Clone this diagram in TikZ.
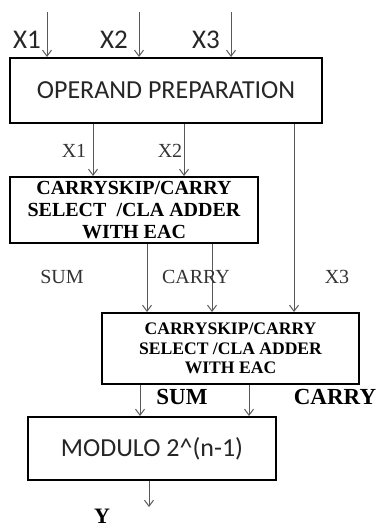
\documentclass[tikz,border=0pt]{standalone}
\usepackage{fontspec}
\setmainfont{Liberation Serif}
\newfontfamily\calfont{Carlito}
\usetikzlibrary{positioning, arrows.meta, calc}
\tikzset{
  blockbox/.style={
    draw=black,
    line width=1pt,
    fill=white,
    align=center,
    inner sep=1pt,
  },
  % sans boxes = preparation / modulo, serif bold = adders
  prepbox/.style={blockbox, minimum width=156pt, minimum height=32.5pt,
    font=\calfont\fontsize{13}{15}\selectfont, text=black!85},
  adderbox/.style={blockbox, font=\bfseries\fontsize{10}{11}\selectfont},
  sigarr/.style={-{Straight Barb[length=3pt, width=4.5pt]}, line width=0.5pt, draw=black!65},
  inlabel/.style={font=\calfont\fontsize{13.5}{15}\selectfont, text=black!85},
  wirelabel/.style={font=\fontsize{10}{12}\selectfont, text=black!80},
  outlabel/.style={font=\bfseries\fontsize{11.5}{13}\selectfont},
}

\begin{document}
\begin{tikzpicture}[x=0.5pt, y=-0.5pt]
  \useasboundingbox (0,0) rectangle (377,528);

  \node[prepbox] (prep) at (166,90.5) {OPERAND PREPARATION};
  \node[adderbox, minimum width=124pt, minimum height=33pt] (add1) at (134,210)
    {CARRYSKIP/CARRY\\SELECT~~/CLA ADDER\\WITH EAC};
  \node[adderbox, minimum width=128.5pt, minimum height=35.5pt,
        font=\bfseries\fontsize{8.8}{9.6}\selectfont] (add2) at (230.5,348.5)
    {CARRYSKIP/CARRY\\SELECT /CLA ADDER\\WITH EAC};
  \node[prepbox, minimum width=124pt, minimum height=31.5pt] (mod) at (152,448.5)
    {MODULO 2\textasciicircum(n-1)};

  % wire positions
  \coordinate (xa) at (47,12);
  \coordinate (xb) at (139,12);
  \coordinate (xc) at (231,12);
  \coordinate (p1) at (93,0);
  \coordinate (p2) at (184,0);
  \coordinate (p3) at (294,0);
  \coordinate (s1) at (147,0);
  \coordinate (s2) at (212,0);
  \coordinate (t1) at (140,0);
  \coordinate (t2) at (249,0);
  \coordinate (yout) at (149,507);

  \foreach \c in {xa, xb, xc} {
    \draw[sigarr] (\c) -- (\c |- prep.north);
  }
  \foreach \c in {p1, p2} {
    \draw[sigarr] (prep.south -| \c) -- (add1.north -| \c);
  }
  \draw[sigarr] (prep.south -| p3) -- (add2.north -| p3);
  \foreach \c in {s1, s2} {
    \draw[sigarr] (add1.south -| \c) -- (add2.north -| \c);
  }
  \foreach \c in {t1, t2} {
    \draw[sigarr] (add2.south -| \c) -- (mod.north -| \c);
  }
  \draw[sigarr] (mod.south -| yout) -- (yout);

  % labels
  \node[inlabel] (lx1) at (27,40) {X1};
  \node[inlabel] (lx2) at (114,40) {X2};
  \node[inlabel] (lx3) at (206,40) {X3};
  \node[wirelabel] (mx1) at (74,151) {X1};
  \node[wirelabel] (mx2) at (170,151) {X2};
  \node[wirelabel] (msum) at (62,277) {SUM};
  \node[wirelabel] (mcarry) at (196,277) {CARRY};
  \node[wirelabel] (mx3) at (337,277) {X3};
  \node[outlabel] (osum) at (182,397) {SUM};
  \node[outlabel] (ocarry) at (335,397) {CARRY};
  \node[outlabel, font=\bfseries\fontsize{11}{12}\selectfont, inner sep=1pt] (oy) at (102,516) {Y};
\end{tikzpicture}
\end{document}
